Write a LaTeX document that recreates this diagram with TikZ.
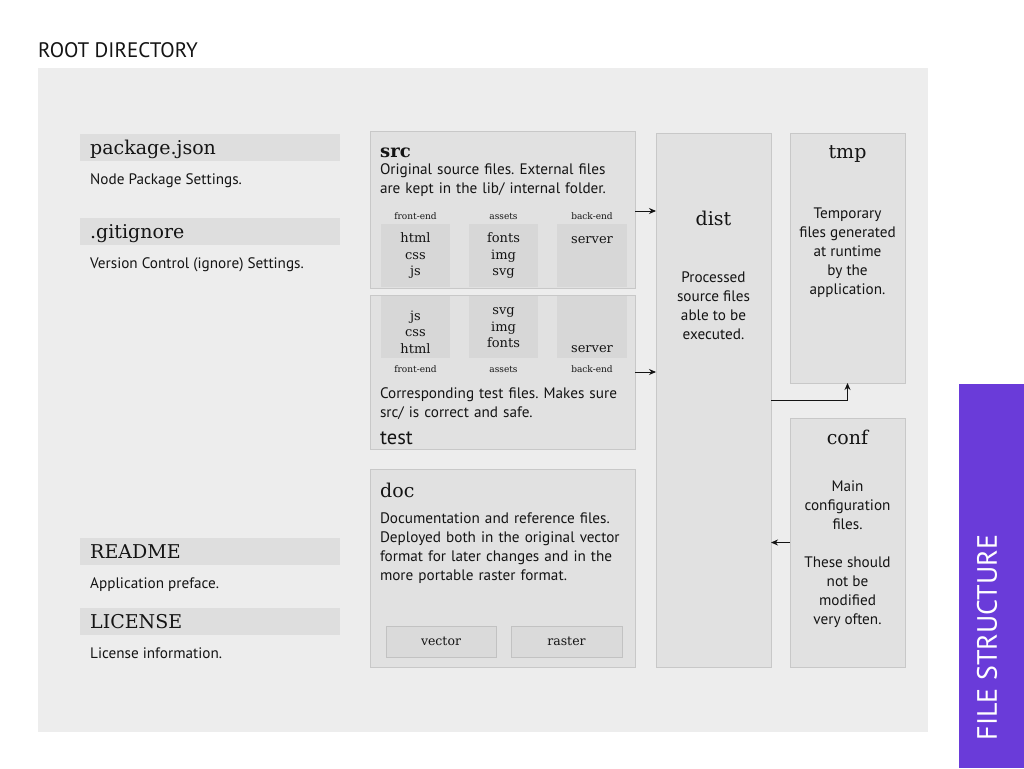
\documentclass[tikz,border=0pt]{standalone}
\usepackage{fontspec}
\setmainfont{PT Sans}
\newfontfamily\slab{DejaVu Serif}
\usetikzlibrary{arrows.meta}
\definecolor{rootbg}{HTML}{EDEDED}
\definecolor{bandc}{HTML}{DEDEDE}
\definecolor{boxfill}{HTML}{E1E1E1}
\definecolor{boxline}{HTML}{C8C8C8}
\definecolor{innerc}{HTML}{D7D7D7}
\definecolor{btnfill}{HTML}{DADADA}
\definecolor{btnline}{HTML}{C2C2C2}
\definecolor{ink}{HTML}{141414}
\definecolor{purp}{HTML}{6A3BD9}
\frenchspacing
\tikzset{
  area/.style={anchor=north west, inner sep=0, outer sep=0},
  rootbox/.style={area, fill=rootbg},
  bandbox/.style={area, fill=bandc, minimum width=260, minimum height=27},
  folder/.style={area, fill=boxfill, draw=boxline, line width=0.8pt},
  innerbox/.style={area, fill=innerc, minimum width=69},
  btn/.style={area, fill=btnfill, draw=btnline, line width=0.8pt, minimum height=31},
  sidebar/.style={area, fill=purp},
  rootlbl/.style={inner sep=0, text=ink, font=\fontsize{21}{25}\selectfont},
  slabtitle/.style={inner sep=0, text=ink, font=\slab\fontsize{19}{23}\selectfont},
  desc/.style={inner sep=0, text=ink, font=\fontsize{15.2}{19}\selectfont},
  item/.style={inner sep=0, text=ink, align=center, font=\slab\fontsize{13}{16.5}\selectfont},
  tiny/.style={inner sep=0, text=ink, font=\slab\fontsize{9}{10}\selectfont},
  btnlbl/.style={inner sep=0, text=ink, font=\slab\fontsize{12.5}{15}\selectfont},
  arr/.style={draw=ink, line width=0.9pt, -{Stealth[length=7pt,width=6pt]}},
}
\begin{document}
\begin{tikzpicture}[x=1pt,y=-1pt]
\useasboundingbox (0,0) rectangle (1024,768);
\fill[white] (0,0) rectangle (1024,768);

% root area
\node[rootlbl, anchor=base west] (roottitle) at (38,58) {ROOT DIRECTORY};
\node[rootbox, minimum width=890, minimum height=664] (root) at (38,68) {};

% left column files
\node[bandbox] (pkg) at (80,134) {};
\node[slabtitle, anchor=base west] (pkgt) at (90,154) {package.json};
\node[desc, anchor=base west] (pkgd) at (90,184) {Node Package Settings.};
\node[bandbox] (git) at (80,218) {};
\node[slabtitle, anchor=base west] (gitt) at (90,238) {.gitignore};
\node[desc, anchor=base west] (gitd) at (90,268) {Version Control (ignore) Settings.};
\node[bandbox] (readme) at (80,538) {};
\node[slabtitle, anchor=base west] (readmet) at (90,558) {README};
\node[desc, anchor=base west] (readmed) at (90,588) {Application preface.};
\node[bandbox] (lic) at (80,608) {};
\node[slabtitle, anchor=base west] (lict) at (90,628) {LICENSE};
\node[desc, anchor=base west] (licd) at (90,658) {License information.};

% src
\node[folder, minimum width=265, minimum height=157] (src) at (370,131) {};
\node[slabtitle, font=\slab\bfseries\fontsize{18}{22}\selectfont, anchor=base west] (srct) at (380,157) {src};
\node[desc, align=left, anchor=center, text width=252] (srcd) at (506,180.5) {Original source files. External files\\are kept in the lib/ internal folder.};
\node[tiny, anchor=base] (srcl1) at (415.5,219) {front-end};
\node[tiny, anchor=base] (srcl2) at (503.5,219) {assets};
\node[tiny, anchor=base] (srcl3) at (592,219) {back-end};
\node[innerbox, minimum height=63] (srcfe) at (381,224) {};
\node[innerbox, minimum height=63] (srcas) at (469,224) {};
\node[innerbox, minimum height=63, minimum width=70] (srcbe) at (557,224) {};
\node[item] (srcfet) at (415.5,256) {html\\css\\js};
\node[item] (srcast) at (503.5,256) {fonts\\img\\svg};
\node[item, anchor=base] (srcbet) at (592,243) {server};

% test
\node[folder, minimum width=265, minimum height=154] (test) at (370,295) {};
\node[innerbox, minimum height=62] (testfe) at (381,296) {};
\node[innerbox, minimum height=62] (testas) at (469,296) {};
\node[innerbox, minimum height=62, minimum width=70] (testbe) at (557,296) {};
\node[item] (testfet) at (415.5,332) {js\\css\\html};
\node[item] (testast) at (503.5,328) {svg\\img\\fonts};
\node[item, anchor=base] (testbet) at (592,352) {server};
\node[tiny, anchor=base] (testl1) at (415.5,372) {front-end};
\node[tiny, anchor=base] (testl2) at (503.5,372) {assets};
\node[tiny, anchor=base] (testl3) at (592,372) {back-end};
\node[desc, align=left, anchor=center, text width=252] (testd) at (506,403.5) {Corresponding test files. Makes sure\\src/ is correct and safe.};
\node[desc, font=\fontsize{20.5}{24}\selectfont, anchor=base west] (testt) at (380,444) {test};

% doc
\node[folder, minimum width=265, minimum height=198] (doc) at (370,469) {};
\node[slabtitle, anchor=base west] (doct) at (380,497) {doc};
\node[desc, align=left, anchor=center, text width=252] (docd) at (506,548) {Documentation and reference files.\\Deployed both in the original vector\\format for later changes and in the\\more portable raster format.};
\node[btn, minimum width=110] (vec) at (386,626) {};
\node[btn, minimum width=111] (ras) at (511,626) {};
\node[btnlbl] (vect) at (vec.center) {vector};
\node[btnlbl] (rast) at (ras.center) {raster};

% dist
\node[folder, minimum width=115, minimum height=534] (dist) at (656,133) {};
\node[slabtitle, anchor=base] (distt) at (713.5,225) {dist};
\node[desc, align=center, anchor=center] (distd) at (713.5,305.5) {Processed\\source files\\able to be\\executed.};

% tmp
\node[folder, minimum width=115, minimum height=250] (tmp) at (790,133) {};
\node[slabtitle, anchor=base] (tmpt) at (847.5,158) {tmp};
\node[desc, align=center, anchor=center] (tmpd) at (847.5,252.5) {Temporary\\files generated\\at runtime\\by the\\application.};

% conf
\node[folder, minimum width=115, minimum height=249] (conf) at (790,418) {};
\node[slabtitle, anchor=base] (conft) at (847.5,444) {conf};
\node[desc, align=center, anchor=center] (confd) at (847.5,554.5) {Main\\configuration\\files.\\[19pt]These should\\not be\\modified\\very often.};

% connectors
\draw[arr] ([yshift=-1.5pt]src.east) -- ([yshift=-1.5pt]src.east -| dist.west);
\draw[arr] (test.east) -- (test.east -| dist.west);
\draw[arr] (dist.east) -| (tmp.south);
\draw[arr] (conf.west) -- (conf.west -| dist.east);

% sidebar
\node[sidebar, minimum width=65, minimum height=384] (side) at (959,384) {};
\node[inner sep=0, text=white, rotate=90, font=\fontsize{28}{30}\selectfont] (sidet) at (987,637.5) {FILE STRUCTURE};
\end{tikzpicture}
\end{document}
